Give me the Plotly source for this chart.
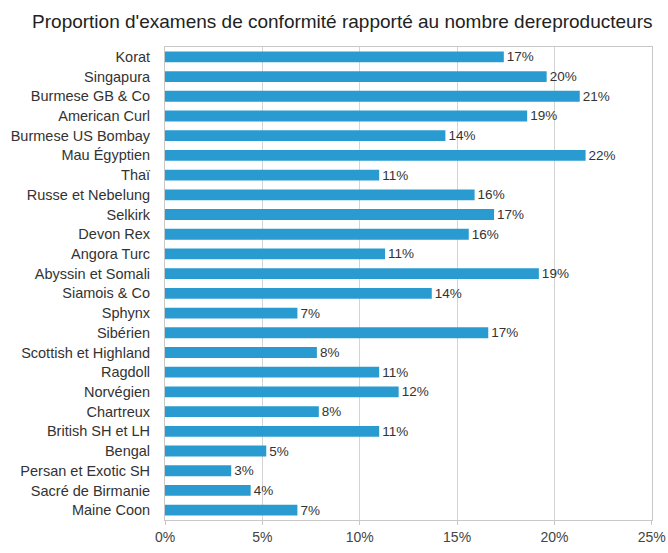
import plotly.graph_objects as go

breeds = [
    "Korat", "Singapura", "Burmese GB & Co", "American Curl", "Burmese US Bombay",
    "Mau Égyptien", "Thaï", "Russe et Nebelung", "Selkirk", "Devon Rex",
    "Angora Turc", "Abyssin et Somali", "Siamois & Co", "Sphynx", "Sibérien",
    "Scottish et Highland", "Ragdoll", "Norvégien", "Chartreux", "British SH et LH",
    "Bengal", "Persan et Exotic SH", "Sacré de Birmanie", "Maine Coon",
]
proportion = [
    0.174, 0.196, 0.213, 0.186, 0.144,
    0.216, 0.110, 0.159, 0.169, 0.156,
    0.113, 0.192, 0.137, 0.068, 0.166,
    0.078, 0.110, 0.120, 0.079, 0.110,
    0.052, 0.034, 0.044, 0.068,
]
x_ticks = [0, 0.05, 0.10, 0.15, 0.20, 0.25]

fig = go.Figure(go.Bar(
    x=proportion,
    y=breeds,
    orientation="h",
    marker=dict(color="#2a9bd0", line=dict(width=0)),
    texttemplate="%{x:.0%}",
    textposition="outside",
    constraintext="none",
    textfont=dict(size=13.5, color="#333333"),
    cliponaxis=False,
))

fig.update_layout(
    width=668, height=553,
    margin=dict(l=165, r=16, t=47, b=33, autoexpand=False),
    paper_bgcolor="white", plot_bgcolor="white",
    font=dict(family="Liberation Sans, Arial, sans-serif", size=14, color="#333333"),
    title=dict(
        text="Proportion d'examens de conformité rapporté au nombre dereproducteurs",
        x=0.048, xanchor="left", y=0.962, yanchor="middle",
        font=dict(size=19, color="#222222"),
    ),
    bargap=0.45,
    showlegend=False,
)
fig.update_xaxes(
    range=[0, 0.2501], tickvals=x_ticks, tickformat=".0%",
    showgrid=True, gridcolor="#d4d4d4", gridwidth=1,
    showline=True, linecolor="#c8c8c8", mirror=True,
    ticks="outside", ticklen=4, tickcolor="#c8c8c8", ticklabeloverflow="allow",
    zeroline=False, tickfont=dict(size=14, color="#444444"), automargin=False,
)
fig.update_yaxes(
    autorange="reversed", showline=True, linecolor="#c8c8c8", mirror=True,
    ticks="", ticklabelstandoff=11, showgrid=False,
    tickfont=dict(size=14.5), automargin=False,
)

# drop the default page margin so the figure fills the window
fig.write_html("out.html", config={"displayModeBar": False},
               post_script="document.body.style.margin='0';")
